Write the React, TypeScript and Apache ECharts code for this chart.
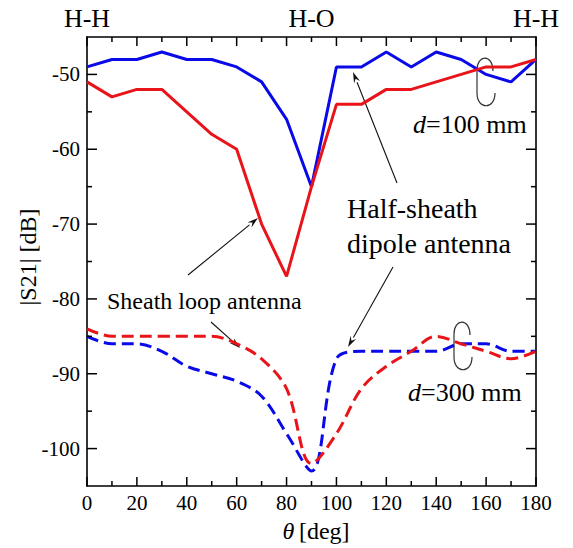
import React, { useEffect, useRef } from "react";
import * as echarts from "echarts";

const theta = [0, 10, 20, 30, 40, 50, 60, 70, 80, 90, 100, 110, 120, 130, 140, 150, 160, 170, 180];
const dipole100 = [-49, -48, -48, -47, -48, -48, -49, -51, -56, -65, -49, -49, -47, -49, -47, -48, -50, -51, -48];
const loop100 = [-51, -53, -52, -52, -55, -58, -60, -70, -77, -65, -54, -54, -52, -52, -51, -50, -49, -49, -48];
const dipole300 = [-85, -86, -86, -87, -89, -90, -91, -93, -98, -103, -88, -87, -87, -87, -87, -86, -86, -87, -87];
const loop300 = [-84, -85, -85, -85, -85, -85, -86, -88, -92, -102, -98, -92, -89, -87, -85, -86, -87, -88, -87];

const xMajor = [0, 20, 40, 60, 80, 100, 120, 140, 160, 180];
const xMinor = [10, 30, 50, 70, 90, 110, 130, 150, 170];
const yMajor = [-100, -90, -80, -70, -60, -50];
const yMinor = [-95, -85, -75, -65, -55];
const topLabels = [0, 90, 180];
const topNames = ["H-H", "H-O", "H-H"];

const FONT = "Liberation Serif";
const BLUE = "#0a0ae8";
const RED = "#e8141a";

function arrow(x1: number, y1: number, x2: number, y2: number) {
  const a = Math.atan2(y2 - y1, x2 - x1);
  const L = 11, W = 3.2;
  const bx = x2 - L * Math.cos(a), by = y2 - L * Math.sin(a);
  const px = -Math.sin(a) * W, py = Math.cos(a) * W;
  return [
    { type: "line", shape: { x1, y1, x2: bx, y2: by }, style: { stroke: "#111", lineWidth: 1.1 } },
    {
      type: "polygon",
      shape: { points: [[x2, y2], [bx + px, by + py], [bx + 0.35 * L * Math.cos(a), by + 0.35 * L * Math.sin(a)], [bx - px, by - py]] },
      style: { fill: "#111" },
    },
  ];
}

function bracket(ox: number, oy: number) {
  const st = { stroke: "#333", fill: "none", lineWidth: 1.2 };
  return [
    { type: "bezierCurve", shape: { x1: ox + 17, y1: oy + 15, cpx1: ox + 17, cpy1: oy - 2, cpx2: ox + 1, cpy2: oy - 2, x2: ox + 1, y2: oy + 14 }, style: st },
    { type: "line", shape: { x1: ox + 1, y1: oy + 14, x2: ox + 1, y2: oy + 37 }, style: st },
    { type: "bezierCurve", shape: { x1: ox + 1, y1: oy + 37, cpx1: ox + 1, cpy1: oy + 54, cpx2: ox + 19, cpy2: oy + 54, x2: ox + 19, y2: oy + 37 }, style: st },
  ];
}

function pairs(v: number[]) {
  return theta.map((t, i) => [t, v[i]]);
}

// Frame tick specs: [x value, y value, dx, dy] (offsets point inwards)
function tickData() {
  const d: number[][] = [];
  xMajor.forEach((t) => { d.push([t, -105, 0, -9]); d.push([t, -45, 0, 9]); });
  xMinor.forEach((t) => { d.push([t, -105, 0, -5]); d.push([t, -45, 0, 5]); });
  yMajor.forEach((v) => { d.push([0, v, 10, 0]); d.push([180, v, -10, 0]); });
  yMinor.forEach((v) => { d.push([0, v, 5, 0]); d.push([180, v, -5, 0]); });
  return d;
}

const hiddenLine = { show: false, onZero: false };
function lineCfg() {
  return { show: true, onZero: false, lineStyle: { color: "#000", width: 1.6 } };
}

export default function App() {
  const ref = useRef<HTMLDivElement>(null);
  useEffect(() => {
    if (!ref.current) return;
    const chart = echarts.init(ref.current, undefined, { renderer: "svg" });
    const baseY = () => ({
      type: "value",
      min: -105,
      max: -45,
      interval: 5,
      splitLine: { show: false },
      axisTick: { show: false },
    });
    chart.setOption({
      animation: false,
      backgroundColor: "#fff",
      textStyle: { fontFamily: FONT, color: "#000" },
      grid: { left: 87, top: 37, width: 449, height: 449 },
      xAxis: [
        {
          type: "value",
          min: 0,
          max: 180,
          interval: 20,
          position: "bottom",
          axisLine: lineCfg(),
          axisTick: { show: false },
          splitLine: { show: false },
          axisLabel: { color: "#000", fontSize: 21, fontFamily: FONT, margin: 6 },
        },
        {
          type: "value",
          min: 0,
          max: 180,
          interval: 90,
          position: "top",
          axisLine: lineCfg(),
          axisTick: { show: false },
          splitLine: { show: false },
          axisLabel: {
            color: "#000",
            fontSize: 26,
            fontFamily: FONT,
            margin: 6,
            formatter: (v: number) => topNames[topLabels.indexOf(v)] ?? "",
          },
        },
      ],
      yAxis: [
        {
          ...baseY(),
          position: "left",
          axisLine: lineCfg(),
          axisLabel: {
            color: "#000",
            fontSize: 21,
            fontFamily: FONT,
            margin: 7,
            formatter: (v: number) => (yMajor.indexOf(v) >= 0 ? String(v) : ""),
          },
        },
        {
          ...baseY(),
          position: "right",
          axisLine: lineCfg(),
          axisLabel: { show: false },
        },
      ],
      series: [
        { type: "line", data: pairs(dipole100), showSymbol: false, lineStyle: { color: BLUE, width: 3 } },
        { type: "line", data: pairs(loop100), showSymbol: false, lineStyle: { color: RED, width: 3 } },
        { type: "line", data: pairs(dipole300), showSymbol: false, smooth: 0.35, lineStyle: { color: BLUE, width: 3, type: [12, 6] } },
        { type: "line", data: pairs(loop300), showSymbol: false, smooth: 0.35, lineStyle: { color: RED, width: 3, type: [12, 6] } },
        {
          type: "custom",
          silent: true,
          clip: false,
          z: 5,
          encode: { x: 0, y: 1 },
          data: tickData(),
          renderItem: (_params: any, api: any) => {
            const p = api.coord([api.value(0), api.value(1)]);
            const dx = api.value(2), dy = api.value(3);
            return {
              type: "line",
              shape: { x1: p[0], y1: p[1], x2: p[0] + dx, y2: p[1] + dy },
              style: { stroke: "#000", lineWidth: 1.5 },
            };
          },
        },
      ],
      graphic: [
        {
          type: "text",
          x: 28,
          y: 257,
          rotation: Math.PI / 2,
          style: { text: "|S21| [dB]", fontSize: 24, fontFamily: FONT, fill: "#000", textAlign: "center", textVerticalAlign: "middle" },
        },
        {
          type: "text",
          x: 316,
          y: 531,
          style: {
            text: "{i|θ}\u2009[deg]",
            fontSize: 24,
            fontFamily: FONT,
            fill: "#000",
            textAlign: "center",
            textVerticalAlign: "middle",
            rich: { i: { fontStyle: "italic", fontSize: 24, fontFamily: FONT } },
          },
        },
        {
          type: "text",
          x: 413,
          y: 124,
          style: {
            text: "{i|d}=100 mm",
            fontSize: 26,
            fontFamily: FONT,
            fill: "#000",
            textAlign: "left",
            textVerticalAlign: "middle",
            rich: { i: { fontStyle: "italic", fontSize: 26, fontFamily: FONT } },
          },
        },
        {
          type: "text",
          x: 408,
          y: 392,
          style: {
            text: "{i|d}=300 mm",
            fontSize: 26,
            fontFamily: FONT,
            fill: "#000",
            textAlign: "left",
            textVerticalAlign: "middle",
            rich: { i: { fontStyle: "italic", fontSize: 26, fontFamily: FONT } },
          },
        },
        {
          type: "text",
          x: 347,
          y: 208,
          style: { text: "Half-sheath", fontSize: 28, fontFamily: FONT, fill: "#000", textAlign: "left", textVerticalAlign: "middle" },
        },
        {
          type: "text",
          x: 347,
          y: 243,
          style: { text: "dipole antenna", fontSize: 28, fontFamily: FONT, fill: "#000", textAlign: "left", textVerticalAlign: "middle" },
        },
        {
          type: "text",
          x: 107,
          y: 301,
          style: { text: "Sheath loop antenna", fontSize: 24, fontFamily: FONT, fill: "#000", textAlign: "left", textVerticalAlign: "middle" },
        },
        ...bracket(476, 56),
        ...bracket(453, 320),
        ...arrow(397, 183, 353, 72),
        ...arrow(393, 267, 348, 347),
        ...arrow(188, 275, 258, 218),
        ...arrow(211, 322, 240, 348),
      ],
    });
    return () => chart.dispose();
  }, []);
  return <div ref={ref} style={{ position: "fixed", left: 0, top: 0, width: 573, height: 548 }} />;
}
